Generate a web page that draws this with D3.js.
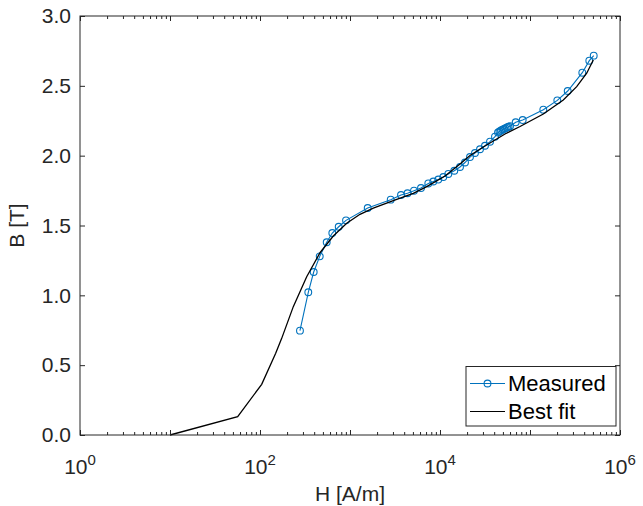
<!DOCTYPE html>
<html>
<head>
<meta charset="utf-8">
<script src="https://cdn.jsdelivr.net/npm/d3@7"></script>
<style>
  html, body { margin: 0; padding: 0; background: #fff; }
  svg { display: block; font-family: "Liberation Sans", Arial, Helvetica, sans-serif; }
</style>
</head>
<body>
<script>
// ---- Data ----
const measuredH = [278, 344, 395, 461, 551, 636, 749, 903, 1573, 2833, 3687, 4355, 5142, 6151, 7413, 8427, 9575, 10880, 12370, 14420, 16680, 18960, 21540, 24480, 27830, 31620, 35940, 40840, 44110, 45830, 47620, 49480, 51400, 53420, 55500, 57680, 59950, 69360, 82960, 140600, 201100, 262400, 381200, 456000, 510500];
const measuredB = [0.747, 1.022, 1.167, 1.279, 1.380, 1.446, 1.491, 1.537, 1.625, 1.685, 1.718, 1.731, 1.749, 1.768, 1.801, 1.815, 1.829, 1.847, 1.869, 1.892, 1.919, 1.951, 1.990, 2.019, 2.046, 2.071, 2.100, 2.136, 2.166, 2.173, 2.180, 2.186, 2.191, 2.197, 2.202, 2.207, 2.211, 2.239, 2.255, 2.329, 2.396, 2.463, 2.594, 2.680, 2.716];

const fitH = [10, 56.5, 104.4, 149.4, 174.2, 234.4, 330.2, 464.2, 652.2, 919.1, 1292, 1815, 3028, 5050, 7116, 11370, 16680, 21540, 31620, 52750, 77430, 140600, 234400, 330200, 426600, 505000];
const fitB = [0, 0.131, 0.363, 0.585, 0.692, 0.919, 1.133, 1.305, 1.425, 1.516, 1.580, 1.625, 1.678, 1.730, 1.778, 1.854, 1.940, 2.001, 2.069, 2.155, 2.209, 2.298, 2.399, 2.494, 2.590, 2.685];

const yTicks = [0, 0.5, 1.0, 1.5, 2.0, 2.5, 3.0];
const yTickLabels = ["0.0", "0.5", "1.0", "1.5", "2.0", "2.5", "3.0"];
const xTickExponents = [0, 2, 4, 6];
const seriesNames = ["Measured", "Best fit"];
const xLabel = "H [A/m]";
const yLabel = "B [T]";

// ---- Layout ----
const W = 643, H = 506;
const m = { left: 80, top: 16, right: 23, bottom: 71 };
const pw = W - m.left - m.right, ph = H - m.top - m.bottom;
const axisColor = "#262626";
const blue = "#0072BD";

const svg = d3.select("body").append("svg").attr("width", W).attr("height", H);
const g = svg.append("g").attr("transform", `translate(${m.left},${m.top})`);

const x = d3.scaleLog().domain([1, 1e6]).range([0, pw]);
const y = d3.scaleLinear().domain([0, 3]).range([ph, 0]);

// Data lines
const measured = measuredH.map((h, i) => [h, measuredB[i]]);
const fit = fitH.map((h, i) => [h, fitB[i]]);
const line = d3.line().x(d => x(d[0])).y(d => y(d[1]));

g.append("path").datum(measured).attr("d", line)
  .attr("fill", "none").attr("stroke", blue).attr("stroke-width", 1.1);
g.selectAll("circle.m").data(measured).join("circle").attr("class", "m")
  .attr("cx", d => x(d[0])).attr("cy", d => y(d[1])).attr("r", 3.4)
  .attr("fill", "none").attr("stroke", blue).attr("stroke-width", 1.1);
g.append("path").datum(fit).attr("d", line)
  .attr("fill", "none").attr("stroke", "#000").attr("stroke-width", 1.3);

// Axes (MATLAB style box, inward ticks)
const fs = 21;
const yAxisL = d3.axisLeft(y).tickValues(yTicks).tickFormat((d, i) => yTickLabels[i]).tickSizeInner(-5).tickSizeOuter(0).tickPadding(9);
const yAxisR = d3.axisRight(y).tickValues(yTicks).tickFormat("").tickSizeInner(-5).tickSizeOuter(0);
const gy = g.append("g").call(yAxisL);
g.append("g").attr("transform", `translate(${pw},0)`).call(yAxisR);

const minorTicks = [];
for (let e = 0; e < 6; e++) for (let k = 2; k <= 9; k++) minorTicks.push(k * Math.pow(10, e));
const majorTicks = d3.range(0, 7).map(e => Math.pow(10, e));

const xAxisB = d3.axisBottom(x).tickValues(majorTicks).tickFormat("").tickSizeInner(-5).tickSizeOuter(0);
const xAxisT = d3.axisTop(x).tickValues(majorTicks).tickFormat("").tickSizeInner(-5).tickSizeOuter(0);
const xMinB = d3.axisBottom(x).tickValues(minorTicks).tickFormat("").tickSizeInner(-3).tickSizeOuter(0);
const xMinT = d3.axisTop(x).tickValues(minorTicks).tickFormat("").tickSizeInner(-3).tickSizeOuter(0);
g.append("g").attr("transform", `translate(0,${ph})`).call(xAxisB);
g.append("g").attr("transform", `translate(0,${ph})`).call(xMinB);
g.append("g").call(xAxisT);
g.append("g").call(xMinT);

g.selectAll(".domain").remove();
g.selectAll(".tick line").attr("stroke", axisColor).attr("stroke-width", 1);
gy.selectAll("text").attr("font-size", fs).attr("fill", axisColor);

// box
g.append("rect").attr("x", 0).attr("y", 0).attr("width", pw).attr("height", ph)
  .attr("fill", "none").attr("stroke", axisColor).attr("stroke-width", 1);

// x tick labels with superscripts
const xl = g.append("g").attr("fill", axisColor).attr("font-size", fs);
xTickExponents.forEach(e => {
  const t = xl.append("text").attr("x", x(Math.pow(10, e))).attr("y", ph + 39).attr("text-anchor", "middle");
  t.append("tspan").text("10");
  t.append("tspan").attr("dy", -9).attr("font-size", 15).text(String(e));
});

// axis labels
g.append("text").attr("x", pw / 2).attr("y", ph + 66).attr("text-anchor", "middle")
  .attr("font-size", fs).attr("fill", axisColor).text(xLabel);
g.append("text").attr("transform", `translate(${-56},${ph / 2}) rotate(-90)`).attr("text-anchor", "middle")
  .attr("font-size", fs).attr("fill", axisColor).text(yLabel);

// Legend
const lg = svg.append("g");
const lx = 466, ly = 366.5, lw = 150, lh = 59.5;
lg.append("rect").attr("x", lx).attr("y", ly).attr("width", lw).attr("height", lh)
  .attr("fill", "#fff").attr("stroke", axisColor).attr("stroke-width", 1);
const rows = [ly + 17, ly + 45];
lg.append("line").attr("x1", lx + 4).attr("x2", lx + 39).attr("y1", rows[0]).attr("y2", rows[0])
  .attr("stroke", blue).attr("stroke-width", 1.1);
lg.append("circle").attr("cx", lx + 21.5).attr("cy", rows[0]).attr("r", 3.4)
  .attr("fill", "none").attr("stroke", blue).attr("stroke-width", 1.1);
lg.append("line").attr("x1", lx + 4).attr("x2", lx + 39).attr("y1", rows[1]).attr("y2", rows[1])
  .attr("stroke", "#000").attr("stroke-width", 1.1);
seriesNames.forEach((s, i) => {
  lg.append("text").attr("x", lx + 42).attr("y", rows[i]).attr("dy", "0.36em")
    .attr("font-size", 22).attr("fill", "#000").text(s);
});
</script>
</body>
</html>
